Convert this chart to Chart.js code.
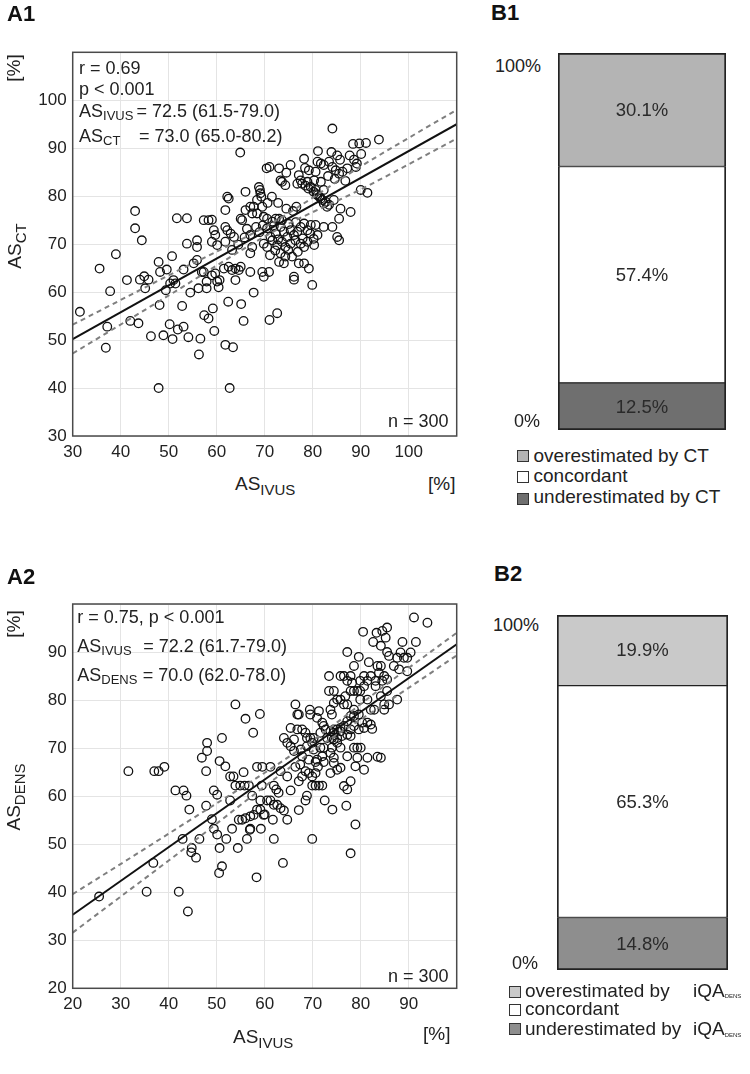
<!DOCTYPE html>
<html><head><meta charset="utf-8">
<script src="https://cdn.jsdelivr.net/npm/chart.js"></script>
<style>
html,body{margin:0;padding:0;background:#fff;}
#wrap{position:relative;width:750px;height:1074px;overflow:hidden;}
canvas{position:absolute;}
.t{position:absolute;white-space:nowrap;font-family:'Liberation Sans',Arial,sans-serif;color:#222;line-height:1;}
.t sub{vertical-align:baseline;position:relative;}
.b{font-weight:bold;font-size:22px;line-height:22px;color:#111;}
.a{font-size:18px;line-height:18px;}
.x{font-size:19px;line-height:19px;}
.r{transform:translate(-50%,-50%) rotate(-90deg);}
.lg{font-size:19px;line-height:19px;}
.sq{position:absolute;width:10px;height:10px;border:1.5px solid #333;}
</style></head>
<body><div id="wrap">
<canvas id="cA1" width="470" height="470" style="left:0;top:0;width:470px;height:470px"></canvas>
<canvas id="cA2" width="470" height="500" style="left:0;top:530px;width:470px;height:500px"></canvas>
<canvas id="cB1" width="168" height="377" style="left:558px;top:53px;width:168px;height:377px"></canvas>
<canvas id="cB2" width="171" height="355" style="left:557px;top:615px;width:171px;height:355px"></canvas>

<!-- A1 texts -->
<div class="t b" style="left:7px;top:3px">A1</div>
<div class="t a" style="left:79px;top:59px">r = 0.69</div>
<div class="t a" style="left:79px;top:80px">p &lt; 0.001</div>
<div class="t a" style="left:79px;top:101.5px">AS<sub style="font-size:13px;top:3.5px">IVUS</sub></div>
<div class="t a" style="left:136.5px;top:101.5px">= 72.5 (61.5-79.0)</div>
<div class="t a" style="left:79px;top:126.5px">AS<sub style="font-size:13px;top:3.5px">CT</sub></div>
<div class="t a" style="left:139px;top:126.5px">= 73.0 (65.0-80.2)</div>
<div class="t a" style="left:388px;top:411.5px">n = 300</div>
<div class="t x" style="left:235px;top:474px">AS<sub style="font-size:15px;top:5px">IVUS</sub></div>
<div class="t x" style="left:428px;top:474px">[%]</div>
<div class="t x r" style="left:12.5px;top:68px">[%]</div>
<div class="t x r" style="left:14.5px;top:245.5px">AS<sub style="font-size:15px;top:5px">CT</sub></div>

<!-- A2 texts -->
<div class="t b" style="left:7px;top:565.5px">A2</div>
<div class="t a" style="left:77.3px;top:607.5px">r = 0.75, p &lt; 0.001</div>
<div class="t a" style="left:77.3px;top:636.5px">AS<sub style="font-size:13px;top:3.5px">IVUS</sub></div>
<div class="t a" style="left:143.3px;top:636.5px">= 72.2 (61.7-79.0)</div>
<div class="t a" style="left:77.3px;top:665.5px">AS<sub style="font-size:13px;top:3.5px">DENS</sub></div>
<div class="t a" style="left:142.7px;top:665.5px">= 70.0 (62.0-78.0)</div>
<div class="t a" style="left:388px;top:967px">n = 300</div>
<div class="t x" style="left:233px;top:1027px">AS<sub style="font-size:15px;top:5px">IVUS</sub></div>
<div class="t x" style="left:423px;top:1024px">[%]</div>
<div class="t x r" style="left:12.5px;top:624px">[%]</div>
<div class="t x r" style="left:14px;top:796.5px">AS<sub style="font-size:15px;top:5px">DENS</sub></div>

<!-- B1 texts -->
<div class="t b" style="left:491px;top:2px">B1</div>
<div class="t a" style="right:209px;top:56.5px">100%</div>
<div class="t a" style="right:210px;top:412px">0%</div>
<div class="sq" style="left:517px;top:450px;background:#b4b4b4"></div>
<div class="sq" style="left:517px;top:471px;background:#ffffff"></div>
<div class="sq" style="left:517px;top:493px;background:#6f6f6f"></div>
<div class="t lg" style="left:533.5px;top:445.6px">overestimated by CT</div>
<div class="t lg" style="left:533.5px;top:465.6px">concordant</div>
<div class="t lg" style="left:533.5px;top:487.2px">underestimated by CT</div>

<!-- B2 texts -->
<div class="t b" style="left:494px;top:562.5px">B2</div>
<div class="t a" style="right:211px;top:615.5px">100%</div>
<div class="t a" style="right:212px;top:954px">0%</div>
<div class="sq" style="left:509px;top:985.5px;background:#c9c9c9"></div>
<div class="sq" style="left:509px;top:1004px;background:#ffffff"></div>
<div class="sq" style="left:509px;top:1023px;background:#8e8e8e"></div>
<div class="t lg" style="left:525px;top:980.6px">overestimated by</div>
<div class="t lg" style="left:693px;top:980.6px">iQA<sub style="font-size:6px;top:1.5px">DENS</sub></div>
<div class="t lg" style="left:525px;top:999px">concordant</div>
<div class="t lg" style="left:525px;top:1019px">underestimated by</div>
<div class="t lg" style="left:693px;top:1019px">iQA<sub style="font-size:6px;top:1.5px">DENS</sub></div>
</div>
<script>
// ---------- DATA ----------
const a1Points = [
[31.5,55.9],[35.6,64.9],[39,67.9],[37.8,60.2],[37.2,52.8],[36.9,48.4],[42,54],[43.7,53.5],[41.3,62.5],[44,62.6],[44.9,63.3],[45.8,62.6],[45.1,60.8],[44.4,70.8],[43,76.9],[43,73.3],[47.9,66.3],[48.2,64.2],[49.6,64.7],[50.7,67.5],[49.4,60.4],[50.3,61.8],[51,62.5],[51.4,61.8],[48.1,57.3],[46.3,50.8],[48.9,51],[50.2,53.3],[50.8,50.2],[51.9,52.2],[53.1,52.8],[54.1,50.6],[52.8,57.1],[53.1,64.7],[53.8,70.1],[51.7,75.4],[53.8,75.4],[54.5,59.9],[55.2,66],[55.9,66.7],[55.9,69.4],[55.9,70.8],[56.2,60.8],[56.9,64.2],[56.6,50.3],[56.3,47],[57.4,55.2],[58.3,54.5],[59.2,56.6],[59.5,51.9],[61.8,49],[63.4,48.5],[62.4,58],[65.1,57.5],[65.6,54],[67.7,59.9],[71,54.2],[72.6,55.6],[57.9,60.8],[60.4,61],[47.9,40],[62.7,40],[57.9,62.2],[59,63.5],[60.6,62.5],
[81.1,89.4],[83.9,89.2],[85.1,88.5],[85.7,87.6],[87.7,88.5],[88.6,87.6],[89.2,86.8],[90.1,88.8],[78.2,87.8],[81,87.2],[81.7,86.8],[82.3,86.5],[83.4,87.2],[84.1,86.1],[84.8,85.4],[85.5,84.7],[86.2,85.1],[87.2,85.8],[89,86.1],[75.4,86.5],[73,85.8],[74.5,84.9],[70.4,85.8],[71,86.1],[79.2,85.4],[77.1,84.4],[77.5,83.3],[76.8,82.6],[77.8,82.6],[78.9,83],[79.6,81.9],[80.6,81.3],[81,80.2],[81.7,79.5],[82.3,78.5],[83,77.8],[81.7,83],[80.3,83.3],[82.3,81.3],[84.4,79.2],[85.8,77.4],[87.9,76.7],[85.5,75.3],[85.1,71.5],[85.5,70.8],[90,81.3],[91.4,80.7],[84.1,73.6],[73.6,83],[74.3,82.3],[73.3,83.3],[66,80.9],[68.8,81.9],[69,81.3],[69.1,80.6],[69.3,79.9],[68.4,79.2],[67.7,77.8],[62.2,79.9],[62.5,79.5],[61.8,77.1],[66,77.1],[67,77.8],[67.4,76.4],[68.4,76.4],[69.5,77.8],[69.8,75.7],[65,75.3],[65.3,75],[57.3,75],[58.3,75],[59,75.1],[61.8,73.6],[62.2,72.9],[63.6,71.5],[62.9,72.2],[59.4,72.9],[59.7,71.9],[59,70.5],[60.1,69.8],[61.8,70.5],[67,71.9],[67.4,69.4],[67,68.1],[70.5,75.3],[71.6,74.7],[72.3,75.3],[73,75.3],[73.6,75],[70.5,73.3],[71.2,71.5],[72.3,72.2],[73.3,73.6],[74,72.6],[74.7,71.5],[75.4,72.9],[76.1,71.9],[76.8,72.6],[77.5,73.6],[78.2,74.3],[78.9,72.9],[79.6,74],[80.6,74],[81,71.9],[82.3,73.6],[69.8,70.1],[70.5,69.4],[71.6,70.8],[72.6,69.8],[73.6,70.5],[74.3,69.4],[75.4,70.1],[76.4,70.8],[77.5,70.1],[78.2,69.4],[78.9,70.5],[80.3,69.8],[73.3,68.1],[74.3,67.4],[73,66.3],[74,66],[75.7,67.4],[77.1,66],[78.2,66],[79.2,64.9],[61.5,64.9],[62.5,65.3],[63.2,64.6],[63.9,64.9],[64.6,64.6],[65,65.3],[67,64.2],[69.5,64.2],[69.8,63.2],[70.9,64.2],[76.1,63.2],[76.1,62.6],[79.9,61.5],[63.9,62.5],[59.7,63.9],[60.1,62.2],[57.3,64.2],
[84.1,94.1],[93.8,91.8],[88.4,90.9],[89.7,91],[91.1,91.1],[64.9,89.1],
[80.2,80.9],[80.8,80.4],[81.4,79.9],[82,79.2],[82.7,78.8],[83.4,78.2],[78.5,82.2],[79.1,81.6],[71.9,73.8],[72.8,71],[75,74.2],[76.5,74.6],[77.9,71.2],[79.5,72.2],[80.2,71.1],[74.9,68.8],[76.9,68.4],[71.1,67.7],[72.2,68.7],[68.2,73.6],[68.9,72.5],[69.6,73.9],[66.3,73.2],[65.8,71.4],[64.5,69.9],[63.2,68.8],[75.9,76.9],[76.6,77.8],[74.5,77.4],[72.8,78.6],[71.5,79.9],[70.6,78.6],[84.6,83.6],[86.8,83.2],[83.2,84.2],[80.6,85.1],[78.4,85.9]
];
const a2Points = [
[91.1,97.2],[93.9,96.1],[80.5,94.2],[83.3,94],[84.5,94.4],[85.5,95.1],[85.2,93],[82.6,92.1],[84.2,91.3],[88.7,92.1],[91.5,92.1],[77.2,90],[79.6,89],[81.7,87.9],[78.6,87.1],[85.5,90],[85.9,89.2],[88.3,89.9],[87.6,88.8],[89,88.8],[89.7,88.8],[90.4,89.9],[86.9,87.1],[88,86.4],[89.7,86],[83.5,87.1],[84.2,87.1],[83.8,85.7],[84.9,85],[85.5,84.3],[83.1,84],[84.5,84],[82.1,85],[73.4,85],[75.8,85],[76.5,85],[77.9,85],[77.2,84],[78.2,83.6],[79.9,84],[80.7,85],[81.4,84],[85.5,81.9],[84.2,80.8],[83.1,82.9],[78.6,81.9],[77.9,81.9],[79.3,81.9],[79.9,81.9],[80.7,82.9],[73.4,81.9],[74.4,81.9],[75.1,80.1],[75.8,80.1],[76.5,79.1],[77.2,79.1],[76.8,80.8],[74.4,79.4],[73.7,78],[74,77],[79.9,80.1],[81.4,80.1],[82.1,78],[82.8,78],[84.9,78],[85.9,79.1],[87.6,80.1],[84.9,79.1],[78.6,78],[78.6,76.7],[79.6,77],[77.9,76.7],[77.2,75.6],[76.5,74.6],[75.1,73.9],[74.4,73.9],[75.8,74.2],[80.3,75.3],[81.4,75.3],[82.1,74.9],[82.4,74],[80.7,74.2],[79.6,73.9],[78.6,74.6],[77.9,73.9],[77.2,72.8],[76.1,72.5],[77.9,72.5],[69.5,77],[70.9,76.3],[71.3,77.7],[72,75.3],[72.7,73.9],[73.7,73.5],[72.3,74.6],[71.6,73.2],[73,72.1],[74,72.1],[74.4,73.2],[75.1,72.1],[75.8,73.5],[66.4,79.1],[66.8,77],[67.1,77],[69.4,78],[65.4,74.2],[66.8,73.9],[67.8,73.9],[68.5,73.2],[68.8,72.1],[69.5,72.1],[70.2,72.1],[68.8,70.4],[69.9,71.1],[70.2,69.7],[71.6,70.1],[72.3,70.1],[74,70.1],[74.4,71.8],[75.1,71.1],[73.7,69],[74.4,68],[75.8,70.1],[77.2,68.3],[78.6,70.1],[79.3,70.1],[80,70.1],[79.3,68],[81.4,68],[84.2,68],[78.9,66.2],[80.7,65.5],[64,72.1],[64.7,71.1],[66.1,71.8],[65.4,70.4],[66.1,69.4],[67.5,69.7],[67.8,68.3],[69.2,67.6],[70.9,67.6],[72,68.3],[53.9,79.1],[56,76.1],[59,77.1],[57.6,73.2],[51.1,72.1],[46.9,68],[48,71.1],[48,69.4],[50.6,67.3],[51.8,66.2],[58.4,66.1],[59.5,66.1],[61.2,66.1],[31.6,65.2],[37,65.2],[37.9,65.2],[39.1,66.1],[66.4,66.1],[67.4,66.6],[70.6,67.1],[71.1,66.1],[72.3,67.1],[74.4,66.9],[83.5,68.2],
[47.8,65.2],[52.8,64.1],[53.5,64.1],[55.6,65],[53.9,62.2],[54.9,62.2],[55.8,62.2],[56.7,62.2],[59.4,62.2],[61.9,62.2],[62.4,61.4],[62.9,60.7],[49.4,61.2],[50.1,60.3],[43.1,61.2],[43.7,60.1],[52.8,59.1],[47.8,58],[44.3,57.2],[57.4,60.1],[59.1,59.1],[60.5,59.1],[61.2,59.1],[61.9,58.2],[62.6,58.2],[63.3,57.5],[58.4,57.2],[59.1,57.2],[57.7,56.1],[57,55.8],[56,55.4],[55.3,55.1],[59.8,56.1],[49,55.2],[64.7,55.1],[61.7,55.1],[53.2,53.2],[57,53.2],[59.2,53.2],[49.4,53.2],[50.1,52],[52,51.1],[46.4,51.1],[56.3,51.1],[61.9,51.1],[69.9,51.1],[44.8,49.2],[44.7,48.3],[45.7,47.2],[50.6,49.2],[54.4,49.2],[51.1,45.4],[50.5,44],[58.3,43.1],[63.8,46.1],[77.9,48.1],[78.9,54.1],[65.4,61.2],[67.1,57.1],[68.5,59.1],[68.8,60.1],[64.7,64.1],[67.1,63.1],[67.8,64.1],[68.5,65.2],[69.2,64.8],[69.9,64.1],[70.6,64.8],[69.9,62.2],[70.6,62.2],[71.3,62.2],[72,62.2],[63.3,65.2],[73.7,64.8],[75.1,65.5],[75.8,65.9],[76.5,62.1],[77.2,61.4],[77.9,63.1],[77,58],[72.5,59.1],[74.1,57.2],
[25.5,39.1],[35.4,40.1],[36.8,46.1],[42.1,40.1],[44,36],[41.4,61.2],[42.9,51.1],[54.6,55.1],[56.9,53],[60,56.2],[64,57]
];
const a1FitX = [30, 110];
const a1FitMid = [50.2, 95.0];
const a1BandX = [30, 50, 72, 90, 110];
const a1BandUpper = [53.2, 63.5, 74.7, 86.2, 98.0];
const a1BandLower = [47.2, 59.3, 72.7, 81.4, 92.0];

const a2FitX = [20, 100];
const a2FitMid = [35.3, 91.6];
const a2BandX = [20, 40, 70, 85, 100];
const a2BandUpper = [39.6, 52.2, 71.6, 83.0, 94.0];
const a2BandLower = [31.6, 46.6, 69.4, 79.2, 89.3];

const a1XRange = [30, 110];
const a1YRange = [30, 110];
const a2XRange = [20, 100];
const a2YRange = [20, 100];

const barSegments = ['underestimated', 'concordant', 'overestimated'];
const b1Values = [12.5, 57.4, 30.1];
const b2Values = [14.8, 65.3, 19.9];
const b1Colors = ['#6f6f6f', '#ffffff', '#b4b4b4'];
const b2Colors = ['#8e8e8e', '#ffffff', '#c9c9c9'];

// ---------- CHARTS ----------
const FONT = "'Liberation Sans', Arial, sans-serif";
const framePlugin = {
  id: 'frame',
  afterDatasetsDraw(chart) {
    const a = chart.chartArea, c = chart.ctx;
    c.save();
    c.strokeStyle = '#4a4a4a';
    c.lineWidth = 1.5;
    c.strokeRect(a.left, a.top, a.right - a.left, a.bottom - a.top);
    c.restore();
  }
};
const xy = (xs, ys) => xs.map((x, i) => ({x: x, y: ys[i]}));

function scatter(id, pts, fx, fm, bx, bu, bl, xr, yr, padTop, xAxisH) {
  new Chart(document.getElementById(id), {
    type: 'scatter',
    data: {datasets: [
      {type: 'line', data: xy(fx, fm), borderColor: '#111', borderWidth: 2, pointRadius: 0, order: 0},
      {type: 'line', data: xy(bx, bu), borderColor: '#7f7f7f', borderWidth: 2, borderDash: [5, 4], pointRadius: 0, cubicInterpolationMode: 'monotone', order: 0},
      {type: 'line', data: xy(bx, bl), borderColor: '#7f7f7f', borderWidth: 2, borderDash: [5, 4], pointRadius: 0, cubicInterpolationMode: 'monotone', order: 0},
      {data: pts.map(p => ({x: p[0], y: p[1]})), pointRadius: 4.3, pointBorderWidth: 1.3,
       borderColor: '#111', backgroundColor: 'rgba(0,0,0,0)', pointStyle: 'circle', order: 1}
    ]},
    options: {
      responsive: false, animation: false,
      plugins: {legend: {display: false}, tooltip: {enabled: false}},
      layout: {padding: {top: padTop, right: 13.3, left: 0, bottom: 0}},
      scales: {
        x: {type: 'linear', min: xr[0], max: xr[1],
            ticks: {stepSize: 10, padding: 6, color: '#222', font: {family: FONT, size: 17},
                    callback: v => v === xr[1] ? '' : v},
            grid: {color: '#e4e4e4', drawTicks: false}, border: {display: false},
            afterFit: s => { s.height = xAxisH; }},
        y: {type: 'linear', min: yr[0], max: yr[1],
            ticks: {stepSize: 10, padding: 6, color: '#222', font: {family: FONT, size: 17},
                    callback: v => v === yr[1] ? '' : v},
            grid: {color: '#e4e4e4', drawTicks: false}, border: {display: false},
            afterFit: s => { s.width = 72.7; }}
      }
    },
    plugins: [framePlugin]
  });
}
scatter('cA1', a1Points, a1FitX, a1FitMid, a1BandX, a1BandUpper, a1BandLower, a1XRange, a1YRange, 52.3, 34);
scatter('cA2', a2Points, a2FitX, a2FitMid, a2BandX, a2BandUpper, a2BandLower, a2XRange, a2YRange, 74, 41.7);

const valueLabels = {
  id: 'valueLabels',
  afterDatasetsDraw(chart) {
    const c = chart.ctx;
    c.save();
    c.font = '18.5px ' + FONT;
    c.fillStyle = '#2a2a2a';
    c.textAlign = 'center';
    c.textBaseline = 'middle';
    chart.data.datasets.forEach((ds, i) => {
      chart.getDatasetMeta(i).data.forEach((el, j) => {
        const p = el.getProps(['x', 'y', 'base'], true);
        c.fillText(ds.data[j].toFixed(1) + '%', p.x, (p.y + p.base) / 2 + 1);
      });
    });
    c.restore();
  }
};
function stacked(id, vals, cols) {
  const n = vals.length;
  new Chart(document.getElementById(id), {
    type: 'bar',
    data: {labels: [''], datasets: vals.map((v, i) => ({
      label: barSegments[i], data: [v], backgroundColor: cols[i], borderColor: '#222',
      borderSkipped: false,
      borderWidth: {left: 2, right: 2, top: i === n - 1 ? 2 : 1, bottom: i === 0 ? 2 : 1},
      barPercentage: 1, categoryPercentage: 1
    }))},
    options: {
      responsive: false, animation: false,
      plugins: {legend: {display: false}, tooltip: {enabled: false}},
      layout: {padding: 0},
      scales: {x: {stacked: true, display: false}, y: {stacked: true, display: false, min: 0, max: 100}}
    },
    plugins: [valueLabels]
  });
}
stacked('cB1', b1Values, b1Colors);
stacked('cB2', b2Values, b2Colors);
</script>
</body></html>
